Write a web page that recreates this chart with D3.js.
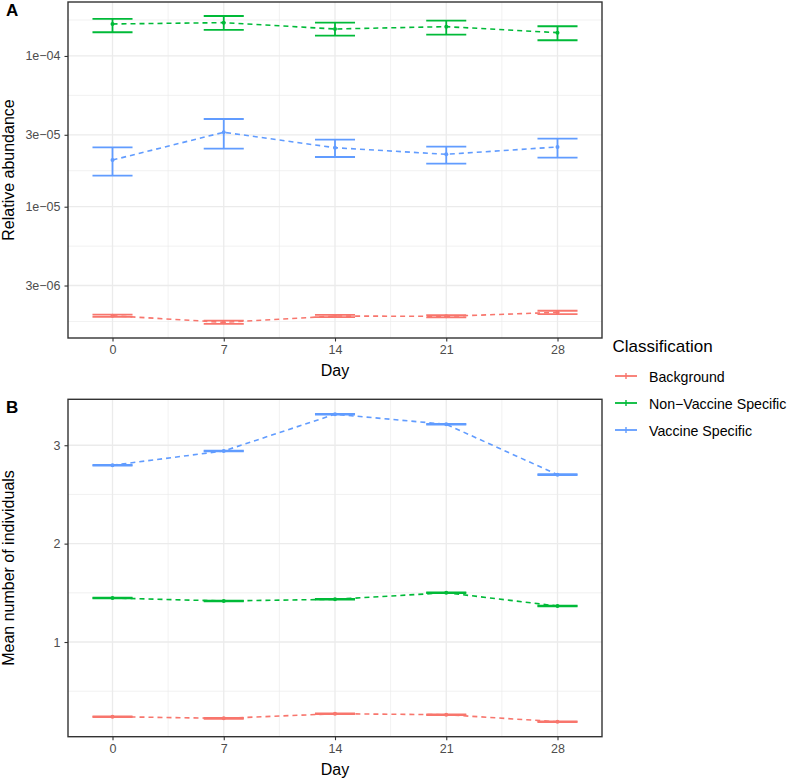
<!DOCTYPE html>
<html>
<head>
<meta charset="utf-8">
<script src="https://cdn.jsdelivr.net/npm/d3@7"></script>
<style>
  body { margin: 0; background: #fff; }
  text { font-family: "Liberation Sans", Arial, sans-serif; }
</style>
</head>
<body>
<svg id="chart" width="787" height="780"></svg>
<script>
// data
const days = [0, 7, 14, 21, 28];
const classes = ['Background', 'Non\u2212Vaccine Specific', 'Vaccine Specific'];
const colors = ['#F8766D', '#00BA38', '#619CFF'];

// panel A: relative abundance (log scale)
const abundMean = [
  [1.891e-6, 1.710e-6, 1.882e-6, 1.874e-6, 1.992e-6],
  [1.630e-4, 1.664e-4, 1.510e-4, 1.565e-4, 1.428e-4],
  [2.040e-5, 3.117e-5, 2.462e-5, 2.227e-5, 2.490e-5]
];
const abundLow = [
  [1.860e-6, 1.670e-6, 1.850e-6, 1.845e-6, 1.940e-6],
  [1.437e-4, 1.488e-4, 1.364e-4, 1.385e-4, 1.271e-4],
  [1.606e-5, 2.425e-5, 2.137e-5, 1.929e-5, 2.114e-5]
];
const abundHigh = [
  [1.925e-6, 1.755e-6, 1.915e-6, 1.905e-6, 2.040e-6],
  [1.760e-4, 1.842e-4, 1.664e-4, 1.715e-4, 1.575e-4],
  [2.478e-5, 3.819e-5, 2.783e-5, 2.501e-5, 2.826e-5]
];
const abundTicks = [3e-6, 1e-5, 3e-5, 1e-4];
const abundLabels = ['3e\u221206', '1e\u221205', '3e\u221205', '1e\u221204'];

// panel B: mean number of individuals
const indivMean = [
  [0.241, 0.224, 0.271, 0.261, 0.190],
  [1.447, 1.417, 1.434, 1.501, 1.366],
  [2.797, 2.942, 3.315, 3.213, 2.701]
];
const indivErr = [
  [0.004, 0.004, 0.004, 0.004, 0.004],
  [0.004, 0.004, 0.004, 0.004, 0.004],
  [0.004, 0.004, 0.004, 0.004, 0.004]
];
const indivTicks = [1, 2, 3];

const svg = d3.select('#chart');
const left = 68, right = 602;
const x = d3.scaleLinear().domain([-2.8, 30.8]).range([left, right]);
const capHalf = 1.26; // errorbar half width in days

function panel(opts) {
  const g = svg.append('g');
  const y = opts.y;
  const [top, bottom] = [y.range()[1], y.range()[0]];

  // minor grid
  g.selectAll('.vminor').data([3.5, 10.5, 17.5, 24.5]).enter().append('line')
    .attr('x1', d => x(d)).attr('x2', d => x(d))
    .attr('y1', top).attr('y2', bottom)
    .attr('stroke', '#ebebeb').attr('stroke-width', 0.7);
  g.selectAll('.hminor').data(opts.minor).enter().append('line')
    .attr('y1', d => y(d)).attr('y2', d => y(d))
    .attr('x1', left).attr('x2', right)
    .attr('stroke', '#ebebeb').attr('stroke-width', 0.7);
  // major grid
  g.selectAll('.vmajor').data(days).enter().append('line')
    .attr('x1', d => x(d)).attr('x2', d => x(d))
    .attr('y1', top).attr('y2', bottom)
    .attr('stroke', '#ebebeb').attr('stroke-width', 1.3);
  g.selectAll('.hmajor').data(opts.ticks).enter().append('line')
    .attr('y1', d => y(d)).attr('y2', d => y(d))
    .attr('x1', left).attr('x2', right)
    .attr('stroke', '#ebebeb').attr('stroke-width', 1.3);

  classes.forEach((c, k) => {
    const pts = days.map((d, i) => ({ d, m: opts.mean[k][i], lo: opts.low[k][i], hi: opts.high[k][i] }));
    // error bars
    const eb = g.append('g').attr('stroke', colors[k]).attr('stroke-width', 1.8).attr('fill', 'none');
    pts.forEach(p => {
      eb.append('line').attr('x1', x(p.d - capHalf)).attr('x2', x(p.d + capHalf))
        .attr('y1', y(p.hi)).attr('y2', y(p.hi));
      eb.append('line').attr('x1', x(p.d - capHalf)).attr('x2', x(p.d + capHalf))
        .attr('y1', y(p.lo)).attr('y2', y(p.lo));
      eb.append('line').attr('x1', x(p.d)).attr('x2', x(p.d))
        .attr('y1', y(p.hi)).attr('y2', y(p.lo));
    });
    // dashed line
    g.append('path').datum(pts)
      .attr('fill', 'none').attr('stroke', colors[k])
      .attr('stroke-width', 1.6).attr('stroke-dasharray', '5,4')
      .attr('d', d3.line().x(p => x(p.d)).y(p => y(p.m)));
    // points
    g.selectAll(null).data(pts).enter().append('circle')
      .attr('cx', p => x(p.d)).attr('cy', p => y(p.m)).attr('r', 2)
      .attr('fill', colors[k]);
  });

  // border
  g.append('rect').attr('x', left).attr('y', top)
    .attr('width', right - left).attr('height', bottom - top)
    .attr('fill', 'none').attr('stroke', '#333333').attr('stroke-width', 1.4);

  // axes
  const xAxis = g.append('g').attr('transform', `translate(0,${bottom})`)
    .call(d3.axisBottom(x).tickValues(days).tickSize(3.5).tickPadding(4));
  xAxis.select('.domain').remove();
  xAxis.selectAll('line').attr('stroke', '#333333').attr('stroke-width', 1.1);
  xAxis.selectAll('text').attr('font-size', 12.5).attr('fill', '#4d4d4d')
    .attr('font-family', '"Liberation Sans", Arial, sans-serif');

  const yAxis = g.append('g').attr('transform', `translate(${left},0)`)
    .call(d3.axisLeft(y).tickValues(opts.ticks).tickFormat((d, i) => opts.labels[i]).tickSize(3.5).tickPadding(4));
  yAxis.select('.domain').remove();
  yAxis.selectAll('line').attr('stroke', '#333333').attr('stroke-width', 1.1);
  yAxis.selectAll('text').attr('font-size', 12.5).attr('fill', '#4d4d4d')
    .attr('font-family', '"Liberation Sans", Arial, sans-serif');

  // titles
  svg.append('text').attr('x', (left + right) / 2).attr('y', bottom + 38)
    .attr('text-anchor', 'middle').attr('font-size', 16).text('Day');
  svg.append('text')
    .attr('transform', `translate(14,${(top + bottom) / 2}) rotate(-90)`)
    .attr('text-anchor', 'middle').attr('font-size', 16).text(opts.ytitle);
  svg.append('text').attr('x', 6).attr('y', top + 14)
    .attr('font-size', 17).attr('font-weight', 'bold').text(opts.tag);
}

const yA = d3.scaleLog().domain([Math.pow(10, -5.871), Math.pow(10, -3.642)]).range([338, 2]);
panel({
  y: yA, tag: 'A', ytitle: 'Relative abundance',
  mean: abundMean, low: abundLow, high: abundHigh,
  ticks: abundTicks, labels: abundLabels,
  minor: [Math.sqrt(3e-6 * 1e-6), Math.sqrt(3e-6 * 1e-5), Math.sqrt(1e-5 * 3e-5), Math.sqrt(3e-5 * 1e-4), Math.sqrt(1e-4 * 3e-4)]
    .filter(v => v > yA.domain()[0] && v < yA.domain()[1])
});

const yB = d3.scaleLinear().domain([0.0376, 3.467]).range([736.7, 399.3]);
panel({
  y: yB, tag: 'B', ytitle: 'Mean number of individuals',
  mean: indivMean,
  low: indivMean.map((r, k) => r.map((v, i) => v - indivErr[k][i])),
  high: indivMean.map((r, k) => r.map((v, i) => v + indivErr[k][i])),
  ticks: indivTicks, labels: indivTicks.map(String),
  minor: [0.5, 1.5, 2.5]
});

// legend
const lg = svg.append('g');
lg.append('text').attr('x', 612.5).attr('y', 351.5).attr('font-size', 17).text('Classification');
classes.forEach((c, k) => {
  const cy = 376 + k * 27;
  lg.append('line').attr('x1', 615).attr('x2', 637).attr('y1', cy).attr('y2', cy)
    .attr('stroke', colors[k]).attr('stroke-width', 1.8);
  lg.append('line').attr('x1', 626).attr('x2', 626).attr('y1', cy - 3).attr('y2', cy + 3)
    .attr('stroke', colors[k]).attr('stroke-width', 1.4);
  lg.append('text').attr('x', 649).attr('y', cy + 5.5).attr('font-size', 14.2).text(c);
});
</script>
</body>
</html>
